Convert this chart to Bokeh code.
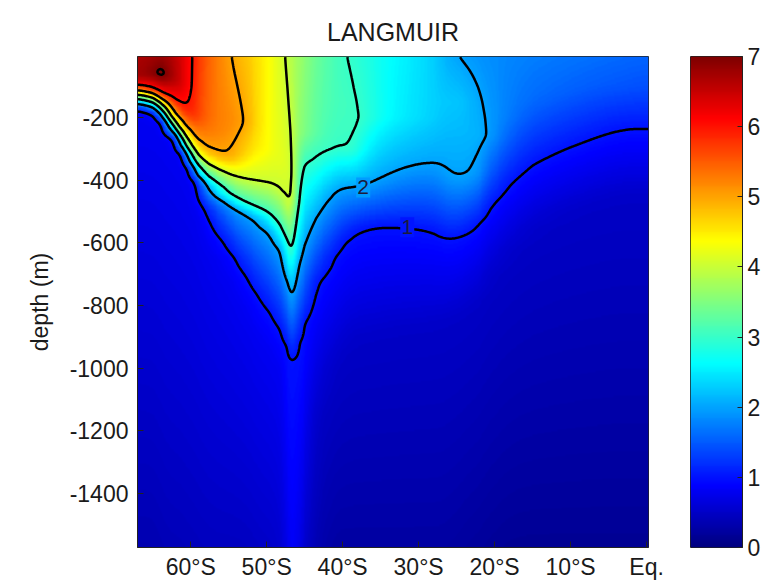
import numpy as np
from bokeh.plotting import figure
from bokeh.layouts import row
from bokeh.models import LinearColorMapper, FixedTicker, ColumnDataSource
from bokeh.embed import file_html
from bokeh.resources import INLINE
from bokeh.core.properties import value

# ---------------- data ----------------
# Columns of the section (latitude, deg; negative = south)
lats = [-67.0, -65.0, -63.7, -62.2, -61.0, -60.0, -59.0, -57.6, -55.6, -54.0,
        -52.5, -51.0, -49.5, -48.2, -47.3, -46.6, -45.8, -45.0, -43.5, -41.5,
        -40.0, -38.5, -36.5, -34.0, -31.0, -28.0, -26.2, -24.2, -22.2, -20.5,
        -18.0, -15.0, -11.0, -7.0, -3.0, 0.25]
# value at the surface
surface_value = [6.65, 6.75, 6.80, 6.60, 6.35, 6.05, 5.80, 5.45, 5.08, 4.90,
                 4.78, 4.55, 4.35, 4.10, 3.95, 3.85, 3.70, 3.60, 3.35, 3.15,
                 3.01, 2.97, 2.82, 2.65, 2.50, 2.30, 2.05, 1.97, 1.88, 1.85,
                 1.80, 1.75, 1.70, 1.65, 1.60, 1.55]
# base of the near-uniform upper layer (depth, value)
cap_depth = [-70, -60, -62, -80, -100, -170, -200, -240, -240, -200,
             -220, -300, -300, -330, -350, -380, -250, -250, -250, -200,
             -150, -230, -200, -200, -200, -200, -150, -150, -250, -260,
             -200, -150, -120, -100, -100, -100]
cap_value = [6.70, 6.95, 7.20, 6.65, 6.35, 6.03, 5.70, 5.35, 5.15, 5.20,
             4.99, 4.50, 4.30, 4.20, 4.12, 4.03, 3.60, 3.50, 3.25, 3.10,
             3.07, 3.10, 2.90, 2.60, 2.45, 2.28, 2.25, 2.25, 2.12, 1.99,
             1.70, 1.60, 1.55, 1.50, 1.45, 1.40]
N = None
# depth (m) where the value falls to each level below the upper layer
depth_of_6 = [-95, -108, -125, -148, -165, -190, N, N, N, N,
              N, N, N, N, N, N, N, N, N, N,
              N, N, N, N, N, N, N, N, N, N,
              N, N, N, N, N, N]
depth_of_5 = [-110, -122, -142, -190, -225, -260, -290, -318, -338, -320,
              N, N, N, N, N, N, N, N, N, N,
              N, N, N, N, N, N, N, N, N, N,
              N, N, N, N, N, N]
depth_of_4 = [-123, -136, -158, -210, -250, -290, -325, -350, -380, -392,
              -400, -405, -412, -435, -478, -450, N, N, N, N,
              N, N, N, N, N, N, N, N, N, N,
              N, N, N, N, N, N]
depth_of_3 = [-137, -150, -175, -228, -272, -315, -360, -400, -440, -462,
              -480, -492, -512, -548, -598, -625, -475, -345, -330, -300,
              -292, -305, N, N, N, N, N, N, N, N,
              N, N, N, N, N, N]
depth_of_2 = [-152, -165, -192, -246, -295, -340, -385, -425, -467, -487,
              -505, -525, -565, -622, -725, -770, -672, -612, -525, -442,
              -422, -423, -412, -382, -352, -340, -385, -395, -375, N,
              N, N, N, N, N, N]
depth_of_1 = [-170, -185, -215, -265, -315, -360, -400, -495, -590, -648,
              -705, -765, -815, -872, -928, -970, -915, -855, -725, -645,
              -598, -565, -548, -545, -551, -557, -590, -578, -540, -475,
              -405, -345, -300, -265, -228, -240]
depth_of_08 = [-180, -195, -227, -275, -325, -370, -410, -530, -650, -728,
               -805, -885, -940, -997, N, N, N, N, N, N,
               N, N, N, N, N, N, N, N, N, N,
               N, N, N, N, N, N]
depth_of_half = [N, N, N, N, N, N, N, N, N, N,
                 N, N, N, N, N, N, N, N, -1150, -1000,
                 -950, -900, -900, -880, -870, -860, -850, -820, -780, -700,
                 -620, -550, -500, -470, -440, -450]
# value at the bottom of the section
bottom_value = [0.35, 0.35, 0.38, 0.40, 0.40, 0.42, 0.42, 0.45, 0.45, 0.45,
                0.45, 0.50, 0.50, 0.55, 0.75, 0.85, 0.75, 0.55, 0.35, 0.25,
                0.25, 0.25, 0.25, 0.25, 0.25, 0.25, 0.25, 0.22, 0.20, 0.18,
                0.15, 0.15, 0.15, 0.15, 0.15, 0.15]

contour_levels = [1, 2, 3, 4, 5, 6, 7]
lat_ticks = [-60, -50, -40, -30, -20, -10, 0]
lat_tick_labels = ["60°S", "50°S", "40°S", "30°S", "20°S", "10°S", "Eq."]
depth_ticks = [-1400, -1200, -1000, -800, -600, -400, -200]
depth_tick_labels = ["-1400", "-1200", "-1000", "-800", "-600", "-400", "-200"]
cbar_ticks = [0, 1, 2, 3, 4, 5, 6, 7]
label_lat = [-37.3, -31.5]
label_depth = [-423, -550]
label_text = ["2", "1"]

X0, X1 = -67.0, 0.25
Y0, Y1 = -1572.0, -5.0
VMIN, VMAX = 0.0, 7.0
FONT = "Liberation Sans"
TXT = "#1a1a1a"

# ---------------- build the field from the read profiles ----------------
nx, ny = 540, 392
xg = X0 + (np.arange(nx) + 0.5) * (X1 - X0) / nx
yg = Y0 + (np.arange(ny) + 0.5) * (Y1 - Y0) / ny
level_arrays = [(6, depth_of_6), (5, depth_of_5), (4, depth_of_4), (3, depth_of_3),
                (2, depth_of_2), (1, depth_of_1), (0.8, depth_of_08), (0.5, depth_of_half)]

ncol = len(lats)
cols = []
for i in range(ncol):
    d = [0.0, -cap_depth[i]]
    v = [surface_value[i], cap_value[i]]
    for lvl, arr in level_arrays:
        if arr[i] is not None:
            d.append(-arr[i]); v.append(lvl)
    d.append(-Y0); v.append(bottom_value[i])
    cols.append(np.interp(-yg, d, v))
cols = np.array(cols)                       # (ncol, ny)

# blend between neighbouring columns in column-index space, with a smooth
# (Gaussian) weighting so the isolines do not kink at every column
SUB = 20
ug = np.linspace(0, ncol - 1, (ncol - 1) * SUB + 1)
Zu = np.array([np.interp(ug, np.arange(ncol), cols[:, j]) for j in range(ny)])
sig = np.interp(ug, [0, 3, 5, 11, 12.5, 17.5, 19, ncol - 1],
                [0.4, 0.4, 0.8, 0.8, 0.35, 0.35, 0.55, 0.55])
W = np.exp(-0.5 * ((ug[None, :] - ug[:, None]) / sig[:, None]) ** 2)
W /= W.sum(axis=1, keepdims=True)
Zu = Zu @ W.T
ux = np.interp(xg, lats, np.arange(ncol))
Z = np.array([np.interp(ux, ug, Zu[j]) for j in range(ny)])


def smooth(a, sigma, axis):
    r = int(3 * sigma) + 1
    k = np.exp(-0.5 * (np.arange(-r, r + 1) / sigma) ** 2)
    k /= k.sum()
    pad = [(0, 0), (0, 0)]
    pad[axis] = (r, r)
    ap = np.pad(a, pad, mode="edge")
    return np.apply_along_axis(lambda s: np.convolve(s, k, mode="valid"), axis, ap)


Z = smooth(Z, 2.0, 0)


# jet colour map
def jet(t):
    r = np.clip(np.minimum(4 * t - 1.5, -4 * t + 4.5), 0, 1)
    g = np.clip(np.minimum(4 * t - 0.5, -4 * t + 3.5), 0, 1)
    b = np.clip(np.minimum(4 * t + 0.5, -4 * t + 2.5), 0, 1)
    return "#%02x%02x%02x" % (int(r * 255 + .5), int(g * 255 + .5), int(b * 255 + .5))


jet256 = [jet(t) for t in np.linspace(0, 1, 256)]
mapper = LinearColorMapper(palette=jet256, low=VMIN, high=VMAX)

p = figure(frame_width=511, frame_height=491, x_range=(X0, X1), y_range=(Y0, Y1),
           toolbar_location=None, output_backend="svg", title="LANGMUIR",
           min_border_left=137, min_border_top=56, min_border_bottom=37,
           min_border_right=42)
p.image(image=[Z], x=X0, y=Y0, dw=X1 - X0, dh=Y1 - Y0, color_mapper=mapper)
p.contour(x=xg, y=yg, z=Z, levels=contour_levels, line_color="black", line_width=2.5)

# contour labels, with a gap cut in the line
lab_cols = []
for la, de in zip(label_lat, label_depth):
    ix = int(np.argmin(np.abs(xg - la))); iy = int(np.argmin(np.abs(yg - de)))
    lab_cols.append(jet(min(max(Z[iy, ix] / VMAX, 0), 1)))
src = ColumnDataSource(dict(x=label_lat, y=label_depth, t=label_text, c=lab_cols))
p.rect(x="x", y="y", width=14, height=20, width_units="screen", height_units="screen",
       fill_color="c", line_color=None, source=src)
p.text(x="x", y="y", text="t", source=src, text_align="center", text_baseline="middle",
       text_font=value(FONT), text_font_size="21px", text_color="#1c1c3c")

p.xgrid.grid_line_color = None
p.ygrid.grid_line_color = None
p.outline_line_color = "#222222"

p.xaxis.ticker = FixedTicker(ticks=lat_ticks)
p.xaxis.major_label_overrides = dict(zip(lat_ticks, lat_tick_labels))
p.yaxis.ticker = FixedTicker(ticks=depth_ticks)
p.yaxis.major_label_overrides = dict(zip(depth_ticks, depth_tick_labels))
for ax in (p.xaxis[0], p.yaxis[0]):
    ax.major_tick_in = 6
    ax.major_tick_out = 0
    ax.minor_tick_line_color = None
    ax.axis_line_color = "#222222"
    ax.major_tick_line_color = "#222222"
    ax.major_label_text_font = FONT
    ax.major_label_text_font_size = "23px"
    ax.major_label_text_color = TXT
p.xaxis.major_label_standoff = 6
p.yaxis.major_label_standoff = 9
p.yaxis.axis_label = "depth (m)"
p.yaxis.axis_label_text_font = FONT
p.yaxis.axis_label_text_font_size = "23px"
p.yaxis.axis_label_text_font_style = "normal"
p.yaxis.axis_label_text_color = TXT
p.yaxis.axis_label_standoff = 14

p.title.align = "center"
p.title.text_font = FONT
p.title.text_font_size = "25px"
p.title.text_font_style = "normal"
p.title.text_color = TXT
p.title.standoff = 22

# ---------------- colour bar (own small panel, same scale) ----------------
cb = figure(frame_width=52, frame_height=491, x_range=(0, 1), y_range=(VMIN, VMAX),
            toolbar_location=None, output_backend="svg", x_axis_location=None,
            y_axis_location="right", min_border_left=0, min_border_right=19,
            min_border_top=56, min_border_bottom=37)
cb.image(image=[np.linspace(VMIN, VMAX, 256).reshape(256, 1)], x=0, y=VMIN, dw=1,
         dh=VMAX - VMIN, color_mapper=mapper)
cb.grid.visible = False
cb.outline_line_color = "#222222"
cb.yaxis.ticker = FixedTicker(ticks=cbar_ticks)
cb.yaxis.major_tick_in = 5
cb.yaxis.major_tick_out = 0
cb.yaxis.minor_tick_line_color = None
cb.yaxis.axis_line_color = "#222222"
cb.yaxis.major_tick_line_color = "#222222"
cb.yaxis.major_label_standoff = 5
cb.yaxis.major_label_text_font = FONT
cb.yaxis.major_label_text_font_size = "23px"
cb.yaxis.major_label_text_color = TXT

layout = row(p, cb)
open("out.html", "w").write(file_html(layout, INLINE))
